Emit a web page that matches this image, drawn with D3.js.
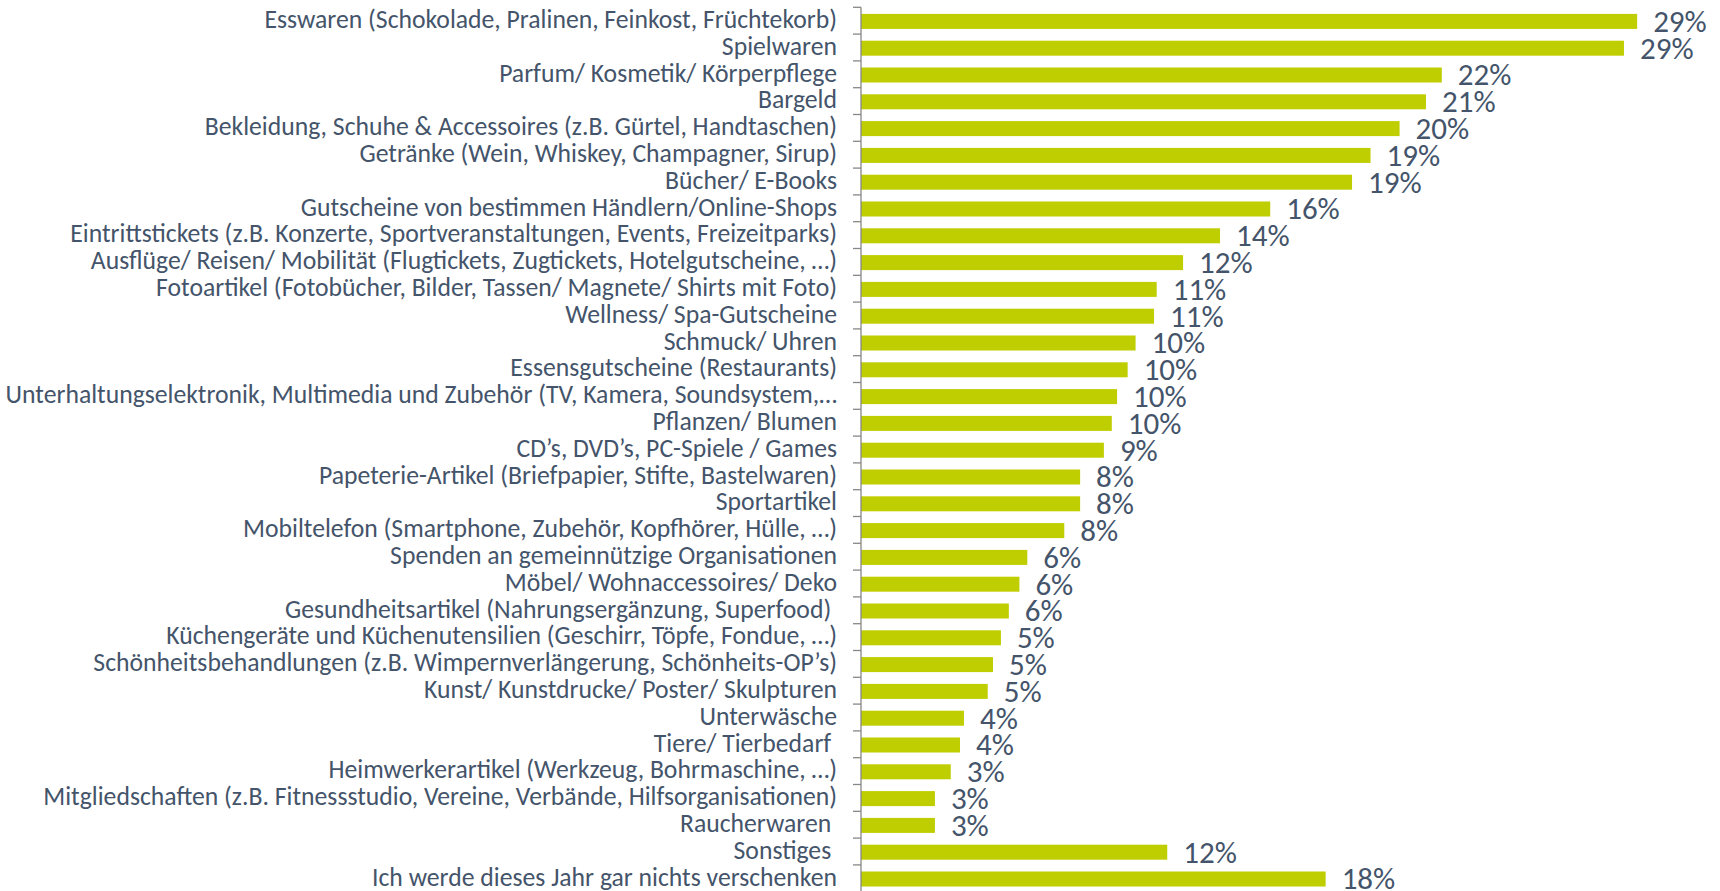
<!DOCTYPE html>
<html>
<head>
<meta charset="utf-8">
<script src="https://cdn.jsdelivr.net/npm/d3@7"></script>
<style>
  body { margin: 0; background: #fff; }
  svg { display: block; }
  .lbl { font-family: Carlito, Calibri, Lato, sans-serif; fill: #44546A; white-space: pre; }
</style>
</head>
<body>
<svg id="chart" width="1720" height="891"></svg>
<script>
// categories top -> bottom (share of respondents)
let categories = [
    "Esswaren (Schokolade, Pralinen, Feinkost, Früchtekorb)",
    "Spielwaren",
    "Parfum/ Kosmetik/ Körperpflege",
    "Bargeld",
    "Bekleidung, Schuhe & Accessoires (z.B. Gürtel, Handtaschen)",
    "Getränke (Wein, Whiskey, Champagner, Sirup)",
    "Bücher/ E-Books",
    "Gutscheine von bestimmen Händlern/Online-Shops",
    "Eintrittstickets (z.B. Konzerte, Sportveranstaltungen, Events, Freizeitparks)",
    "Ausflüge/ Reisen/ Mobilität (Flugtickets, Zugtickets, Hotelgutscheine, …)",
    "Fotoartikel (Fotobücher, Bilder, Tassen/ Magnete/ Shirts mit Foto)",
    "Wellness/ Spa-Gutscheine",
    "Schmuck/ Uhren",
    "Essensgutscheine (Restaurants)",
    "Unterhaltungselektronik, Multimedia und Zubehör (TV, Kamera, Soundsystem,…",
    "Pflanzen/ Blumen",
    "CD’s, DVD’s, PC-Spiele / Games",
    "Papeterie-Artikel (Briefpapier, Stifte, Bastelwaren)",
    "Sportartikel",
    "Mobiltelefon (Smartphone, Zubehör, Kopfhörer, Hülle, …)",
    "Spenden an gemeinnützige Organisationen",
    "Möbel/ Wohnaccessoires/ Deko",
    "Gesundheitsartikel (Nahrungsergänzung, Superfood) ",
    "Küchengeräte und Küchenutensilien (Geschirr, Töpfe, Fondue, …)",
    "Schönheitsbehandlungen (z.B. Wimpernverlängerung, Schönheits-OP’s)",
    "Kunst/ Kunstdrucke/ Poster/ Skulpturen",
    "Unterwäsche",
    "Tiere/ Tierbedarf ",
    "Heimwerkerartikel (Werkzeug, Bohrmaschine, …)",
    "Mitgliedschaften (z.B. Fitnessstudio, Vereine, Verbände, Hilfsorganisationen)",
    "Raucherwaren ",
    "Sonstiges ",
    "Ich werde dieses Jahr gar nichts verschenken"
]
let values = [
    0.294, 0.289, 0.220, 0.214, 0.204, 0.193, 0.186, 0.155, 0.136, 0.122,
    0.112, 0.111, 0.104, 0.101, 0.097, 0.095, 0.092, 0.083, 0.083, 0.077,
    0.063, 0.060, 0.056, 0.053, 0.050, 0.048, 0.039, 0.0375, 0.034, 0.028,
    0.028, 0.116, 0.176
]

const BAR_COLOR = "#BFCE00"
const AXIS_COLOR = "#878787"
let axis_x = 861

let svg = d3.select("#chart")

let x = d3.scaleLinear().domain([0, 0.3]).range([axis_x, axis_x + 792])
let y = d3.scaleBand().domain(categories).range([7.3, 891.7]).padding(0)
let bar_h = 15

// bars
svg.append("g").selectAll("rect")
    .data(categories)
    .enter().append("rect")
    .attr("x", x(0))
    .attr("y", function(c) { return y(c) + y.bandwidth()/2 - bar_h/2 + 0.7 })
    .attr("width", function(c, i) { return x(values[i]) - x(0) })
    .attr("height", bar_h)
    .attr("fill", BAR_COLOR)

// category labels via axis, line and boundary ticks drawn separately
let yAxis = svg.append("g")
    .attr("transform", "translate(" + axis_x + ",0)")
    .call(d3.axisLeft(y).tickSize(0).tickPadding(24))
yAxis.select(".domain").remove()
yAxis.selectAll("text")
    .attr("class", "lbl")
    .attr("font-size", 25.7)
    .attr("dy", "0.28em")

svg.append("line")
    .attr("x1", axis_x).attr("x2", axis_x)
    .attr("y1", y.range()[0]).attr("y2", y.range()[1])
    .attr("stroke", AXIS_COLOR).attr("stroke-width", 1.3)

let boundaries = categories.map(function(c) { return y(c) }).concat([y.range()[1]])
svg.append("g").selectAll("line")
    .data(boundaries)
    .enter().append("line")
    .attr("x1", axis_x - 8).attr("x2", axis_x)
    .attr("y1", function(d) { return d }).attr("y2", function(d) { return d })
    .attr("stroke", AXIS_COLOR).attr("stroke-width", 1.3)

// value labels
svg.append("g").selectAll("text")
    .data(categories)
    .enter().append("text")
    .attr("class", "lbl")
    .attr("font-size", 31)
    .attr("x", function(c, i) { return x(values[i]) + 16 })
    .attr("y", function(c) { return y(c) + y.bandwidth()/2 + 11 })
    .text(function(c, i) { return d3.format(".0%")(values[i]) })
</script>
</body>
</html>
